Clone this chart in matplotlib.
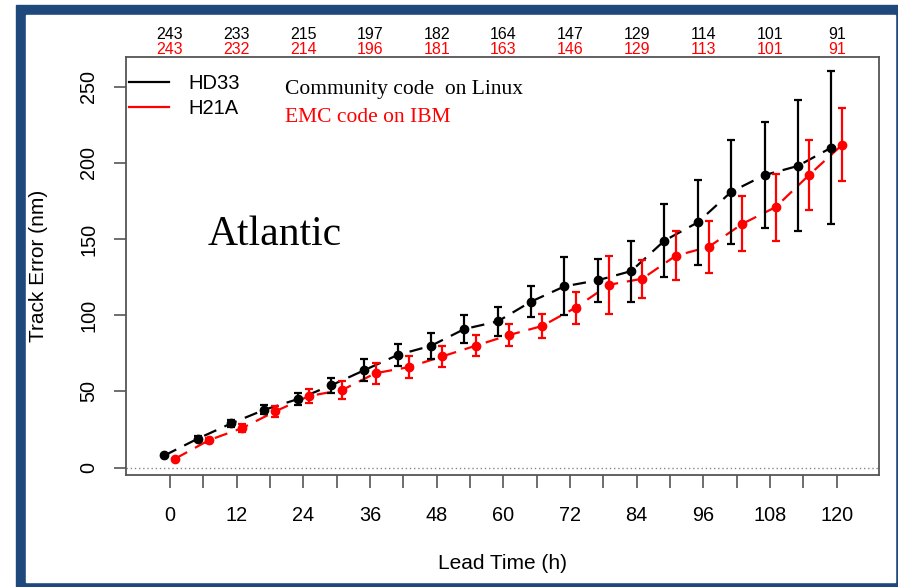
import matplotlib
matplotlib.use('Agg')
import matplotlib.pyplot as plt
import matplotlib.transforms as mtransforms
from matplotlib.patches import Rectangle

# lead times (h)
lead = [0, 6, 12, 18, 24, 30, 36, 42, 48, 54, 60, 66, 72, 78, 84, 90, 96, 102, 108, 114, 120]

# HD33 (community code on Linux)
hd33 = [8, 19, 29, 38, 45, 54, 64, 74, 80, 91, 96, 109, 119, 123, 129, 149, 161, 181, 192, 198, 210]
hd33_err = [0, 1.5, 2.5, 3, 4, 5, 7, 7, 8.5, 9, 9.5, 10, 19, 14, 20, 24, 28, 34, 35, 43, 50]

# H21A (EMC code on IBM)
h21a = [6, 18, 26, 37, 47, 51, 62, 66, 73, 80, 87, 93, 105, 120, 124, 139, 145, 160, 171, 192, 212]
h21a_err = [0, 1.5, 2.5, 3.5, 4.5, 6, 7, 7, 7, 7, 7, 8, 10.5, 19, 12.5, 16, 17, 18, 22, 23, 24]

# sample counts shown above the plot
count_hours = [0, 12, 24, 36, 48, 60, 72, 84, 96, 108, 120]
n_hd33 = [243, 233, 215, 197, 182, 164, 147, 129, 114, 101, 91]
n_h21a = [243, 232, 214, 196, 181, 163, 146, 129, 113, 101, 91]

sans = ['Liberation Sans', 'DejaVu Sans']
serif = ['Liberation Serif', 'DejaVu Serif']
plt.rcParams['font.family'] = sans

W, H = 898, 587
fig = plt.figure(figsize=(W / 100, H / 100), dpi=100)

# blue slide frame
frame_blue = '#1f497d'
fig.patches.append(Rectangle((16 / W, 0), (W - 16) / W, (H - 5) / H,
                             transform=fig.transFigure, color=frame_blue, zorder=-2))
fig.patches.append(Rectangle((26 / W, 5 / H), (895 - 26) / W, (582 - 15) / H,
                             transform=fig.transFigure, color='white', zorder=-1))

ax = fig.add_axes([126 / W, (H - 475) / H, (879 - 126) / W, (475 - 57) / H])

off = 1.0
xb = [t - off for t in lead]
xr = [t + off for t in lead]

ax.errorbar(xb, hd33, yerr=hd33_err, color='black', fmt='o', ms=6,
            elinewidth=1.6, capsize=3, capthick=1.6, zorder=3)
ax.plot(xb, hd33, color='black', lw=1.6, ls=(0, (6, 4)), zorder=2)
ax.errorbar(xr, h21a, yerr=h21a_err, color='red', fmt='o', ms=6,
            elinewidth=1.6, capsize=3, capthick=1.6, zorder=3)
ax.plot(xr, h21a, color='red', lw=1.6, ls=(0, (6, 4)), zorder=2)

ax.axhline(0, color='#888888', lw=1, ls=(0, (1, 2)), zorder=1)

ax.set_xlim(-7.9, 127.6)
ax.set_ylim(-4.8, 269.5)

ax.set_xticks(range(0, 121, 12))
ax.set_xticks(range(6, 121, 12), minor=True)
ax.set_yticks([0, 50, 100, 150, 200, 250])

spine_c = '#555555'
for s in ax.spines.values():
    s.set_color(spine_c)
    s.set_linewidth(1.3)
ax.tick_params(axis='x', which='both', direction='out', length=9, width=1.2,
               color=spine_c, pad=13, labelsize=14.3)
ax.tick_params(axis='y', direction='out', length=9, width=1.2,
               color=spine_c, pad=11, labelsize=14.3, labelrotation=90)
for lab in ax.get_yticklabels():
    lab.set_va('center')

ax.set_xlabel('Lead Time (h)', fontsize=15)
ax.xaxis.set_label_coords(0.5, -0.19)
ax.xaxis.label.set_va('top')
ax.set_ylabel('Track Error (nm)', fontsize=15)
ax.yaxis.set_label_coords(-0.103, 0.5)

# counts above the plot
trans = mtransforms.blended_transform_factory(ax.transData, ax.transAxes)
for t, a, b in zip(count_hours, n_hd33, n_h21a):
    ax.text(t, 1.055, str(a), transform=trans, ha='center', va='center',
            fontsize=11.5, color='black', clip_on=False)
    ax.text(t, 1.019, str(b), transform=trans, ha='center', va='center',
            fontsize=11.5, color='red', clip_on=False)

# legend
ax.plot([], [], color='black', lw=1.6, label='HD33')
ax.plot([], [], color='red', lw=1.6, label='H21A')
h, l = ax.get_legend_handles_labels()
ax.legend(h[-2:], l[-2:], loc='upper left', bbox_to_anchor=(0.004, 0.96),
          frameon=False, fontsize=14.5, handlelength=2.0, handletextpad=0.95,
          labelspacing=0.3, borderpad=0, borderaxespad=0)

ax.text(20.7, 248.5, 'Community code  on Linux', family=serif, fontsize=15.5,
        color='black', va='center', ha='left')
ax.text(20.7, 229.8, 'EMC code on IBM', family=serif, fontsize=15.5,
        color='red', va='center', ha='left')
ax.text(6.7, 152.7, 'Atlantic', family=serif, fontsize=30,
        color='black', va='center', ha='left')

fig.savefig('out.png', dpi=100)
